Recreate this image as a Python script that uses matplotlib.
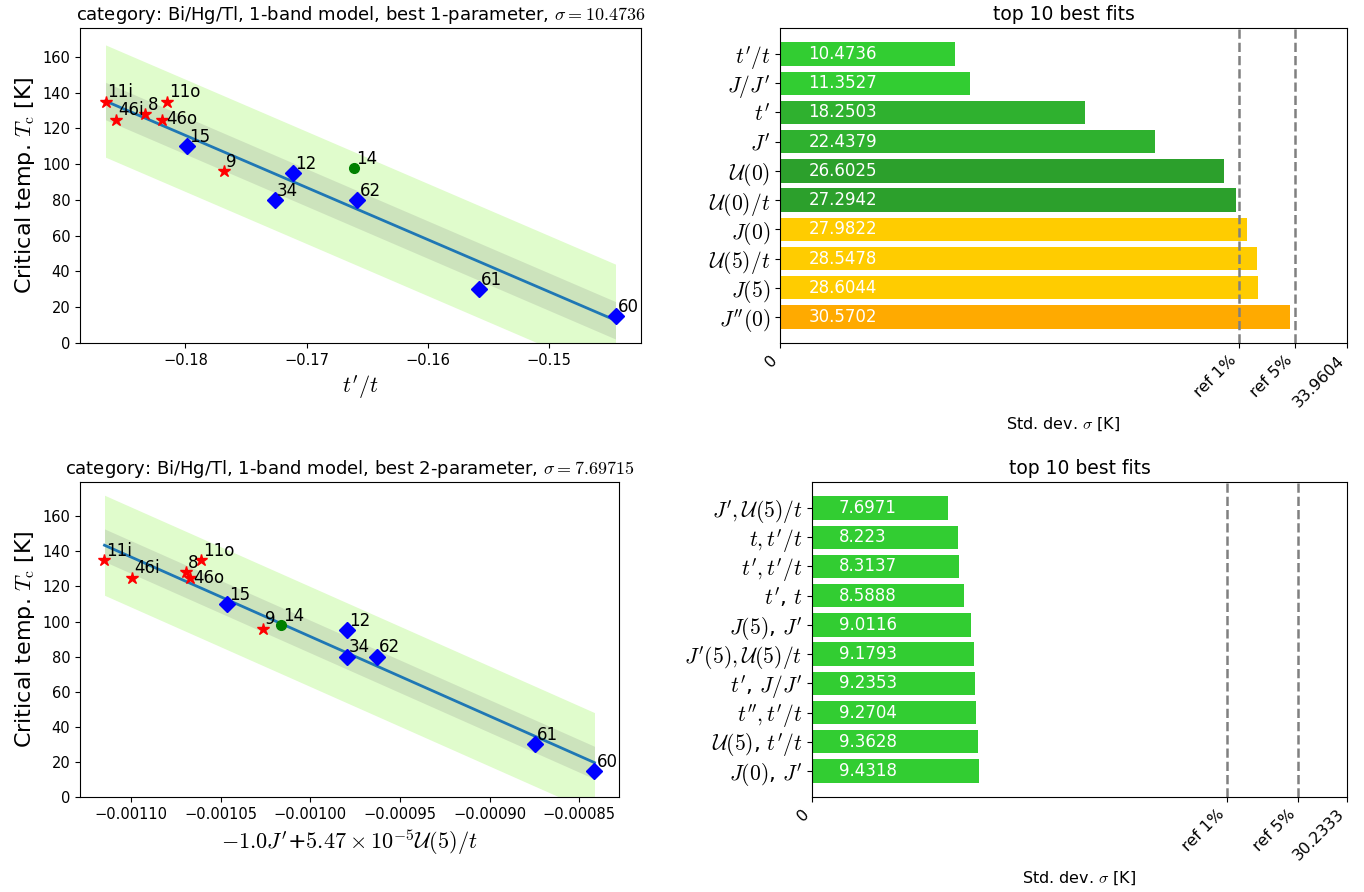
import numpy as np
import matplotlib
matplotlib.use('Agg')
import matplotlib.pyplot as plt
from matplotlib.ticker import MultipleLocator

plt.rcParams['font.family'] = ['DejaVu Sans']
plt.rcParams['mathtext.fontset'] = 'cm'

# compounds and critical temperatures
labels = ['11i', '46i', '8', '46o', '11o', '15', '9', '34', '12', '14', '62', '61', '60']
tc = [135, 125, 128, 125, 135, 110, 96, 80, 95, 98, 80, 30, 15]
kind = ['star', 'star', 'star', 'star', 'star', 'dia', 'star', 'dia', 'dia', 'circ', 'dia', 'dia', 'dia']

# descriptor values, 1-parameter fit (t'/t) and 2-parameter fit
x_1p = [-0.1866, -0.1857, -0.1833, -0.1819, -0.1815, -0.1799, -0.1768,
        -0.1726, -0.1711, -0.1661, -0.1658, -0.1558, -0.1445]
x_2p = [-0.0011150, -0.0010995, -0.0010697, -0.0010675, -0.0010613, -0.0010466, -0.0010264,
        -0.0009798, -0.0009798, -0.0010163, -0.0009628, -0.0008749, -0.0008414]
sigma_1p = 10.4736
sigma_2p = 7.69715
band_1p = [10.47, 31.4]   # inner / outer half widths
band_2p = [9.3, 28.5]

# top 10 lists
names_1p = [r"$t'/t$", r"$J/J'$", r"$t'$", r"$J'$", r"$\mathcal{U}(0)$", r"$\mathcal{U}(0)/t$",
            r"$J(0)$", r"$\mathcal{U}(5)/t$", r"$J(5)$", r"$J''(0)$"]
std_1p = [10.4736, 11.3527, 18.2503, 22.4379, 26.6025, 27.2942, 27.9822, 28.5478, 28.6044, 30.5702]
cols_1p = ['#32cd32', '#32cd32', '#2fb12f', '#2fb12f', '#2ca02c', '#2ca02c',
           '#ffcc00', '#ffcc00', '#ffcc00', '#ffaa00']
ref_1p = [27.48, 30.85]
xmax_1p = 33.9604

names_2p = [r"$J',\mathcal{U}(5)/t$", r"$t,t'/t$", r"$t',t'/t$", r"$t'$, $t$", r"$J(5)$, $J'$",
            r"$J'(5),\mathcal{U}(5)/t$", r"$t'$, $J/J'$", r"$t'',t'/t$", r"$\mathcal{U}(5)$, $t'/t$",
            r"$J(0)$, $J'$"]
std_2p = [7.6971, 8.223, 8.3137, 8.5888, 9.0116, 9.1793, 9.2353, 9.2704, 9.3628, 9.4318]
cols_2p = ['#32cd32'] * 10
ref_2p = [23.47, 27.47]
xmax_2p = 30.2333

mstyle = {'star': dict(marker='*', color='red', ms=9),
          'dia': dict(marker='D', color='blue', ms=8),
          'circ': dict(marker='o', color='green', ms=7)}


def scatter_panel(ax, x, title, xlabel, band, ytop):
    x = np.array(x)
    y = np.array(tc, dtype=float)
    k, b = np.polyfit(x, y, 1)
    xs = np.array([x.min(), x.max()])
    fit = k * xs + b
    ax.fill_between(xs, fit - band[1], fit + band[1], color='#e0fccc', lw=0)
    ax.fill_between(xs, fit - band[0], fit + band[0], color='gray', alpha=0.2, lw=0)
    ax.plot(xs, fit, color='tab:blue', lw=2)
    for xi, yi, lab, kd in zip(x, y, labels, kind):
        ax.plot(xi, yi, ls='none', **mstyle[kd])
        off = (3, -3.5) if lab == '46o' else (1.5, 3)
        ax.annotate(lab, (xi, yi), xytext=off, textcoords='offset points', fontsize=12)
    ax.set_ylim(0, ytop)
    ax.yaxis.set_major_locator(MultipleLocator(20))
    ax.tick_params(labelsize=10.5)
    ax.set_title(title, fontsize=13)
    ax.set_xlabel(xlabel, fontsize=16)
    ax.set_ylabel(r'Critical temp. $T_\mathrm{c}$ [K]', fontsize=16)


def bar_panel(ax, names, vals, cols, refs, xmax):
    pos = np.arange(len(vals))
    ax.barh(pos, vals, color=cols, height=0.8)
    for p, v in zip(pos, vals):
        ax.text(0.05 * xmax, p, str(v), color='white', va='center', fontsize=12)
    for r in refs:
        ax.axvline(r, color='gray', ls='--', lw=1.8)
    ax.set_yticks(pos)
    ax.set_yticklabels(names, fontsize=15.5)
    ax.invert_yaxis()
    ax.set_xlim(0, xmax)
    ax.set_xticks([0, refs[0], refs[1], xmax])
    ax.set_xticklabels(['0', 'ref 1%', 'ref 5%', str(xmax)], rotation=45, ha='right',
                       fontsize=11.5)
    ax.set_xlabel(r'Std. dev. $\sigma$ [K]', fontsize=11.5)
    ax.set_title('top 10 best fits', fontsize=13.5)


fig = plt.figure(figsize=(13.64, 8.92), dpi=100)
W, H = 1364, 892
ax1 = fig.add_axes([80 / W, 1 - 343 / H, 561 / W, 315 / H])
ax2 = fig.add_axes([780 / W, 1 - 343 / H, 567 / W, 315 / H])
ax3 = fig.add_axes([80 / W, 1 - 797 / H, 539 / W, 315 / H])
ax4 = fig.add_axes([812 / W, 1 - 797 / H, 535 / W, 315 / H])

scatter_panel(ax1, x_1p,
              'category: Bi/Hg/Tl, 1-band model, best 1-parameter, $\\sigma=%s$' % sigma_1p,
              r"$t'/t$", band_1p, 176.2)
scatter_panel(ax3, x_2p,
              'category: Bi/Hg/Tl, 1-band model, best 2-parameter, $\\sigma=%s$' % sigma_2p,
              r"$-1.0J'$+$5.47\times10^{-5}\mathcal{U}(5)/t$", band_2p, 179.5)
bar_panel(ax2, names_1p, std_1p, cols_1p, ref_1p, xmax_1p)
bar_panel(ax4, names_2p, std_2p, cols_2p, ref_2p, xmax_2p)

fig.savefig('out.png', dpi=100)
